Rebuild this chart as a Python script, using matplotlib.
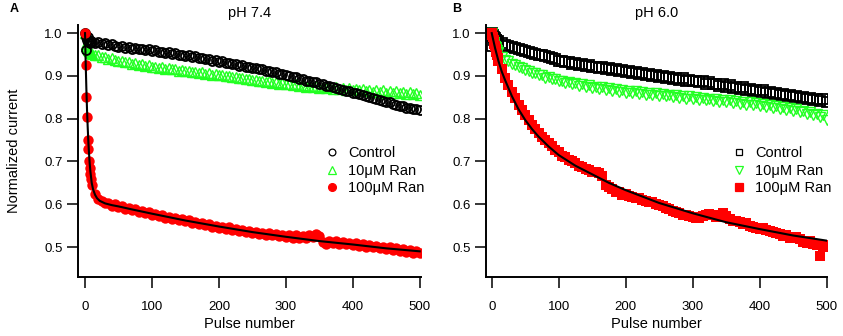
import matplotlib
matplotlib.use("Agg")
import matplotlib.pyplot as plt
import numpy as np

plt.rcParams['font.family'] = ['Liberation Sans', 'DejaVu Sans']

# ---------------- data ----------------
pulses = list(range(0, 11)) + list(range(15, 501, 5))

# Panel A, pH 7.4
ctrl_a = [1.0, 0.96, 0.99, 0.985, 0.99, 0.98, 0.985, 0.98, 0.978, 0.982, 0.98,
          0.977, 0.98, 0.975, 0.976, 0.972, 0.975, 0.97, 0.968, 0.971, 0.966, 0.967, 0.964, 0.966, 0.962, 0.963, 0.96, 0.962, 0.958,
          0.96, 0.956, 0.957, 0.953, 0.955, 0.951, 0.953, 0.949, 0.95, 0.947, 0.948, 0.944, 0.946, 0.942, 0.943, 0.939, 0.94, 0.936, 0.937, 0.933,
          0.934, 0.93, 0.931, 0.927, 0.928, 0.924, 0.925, 0.921, 0.922, 0.918, 0.919, 0.915, 0.915, 0.911, 0.912, 0.908, 0.908, 0.904, 0.905, 0.901,
          0.9, 0.897, 0.897, 0.893, 0.893, 0.889, 0.889, 0.885, 0.885, 0.881, 0.88, 0.877, 0.876, 0.873, 0.872, 0.869, 0.868, 0.865, 0.864, 0.861,
          0.86, 0.857, 0.856, 0.852, 0.851, 0.848, 0.847, 0.843, 0.842, 0.839, 0.838, 0.834, 0.833, 0.83, 0.829, 0.826, 0.826, 0.823, 0.823, 0.821]
ran10_a = [1.0, 0.975, 0.97, 0.965, 0.962, 0.96, 0.958, 0.955, 0.957, 0.953, 0.952,
           0.95, 0.948, 0.945, 0.944, 0.94, 0.941, 0.937, 0.936, 0.934, 0.932, 0.933, 0.929, 0.93, 0.926, 0.927, 0.924, 0.925, 0.921,
           0.922, 0.919, 0.92, 0.917, 0.918, 0.915, 0.916, 0.912, 0.913, 0.911, 0.912, 0.909, 0.91, 0.907, 0.908, 0.905, 0.906, 0.903, 0.904, 0.901,
           0.902, 0.899, 0.9, 0.897, 0.898, 0.894, 0.895, 0.892, 0.893, 0.89, 0.891, 0.888, 0.889, 0.886, 0.887, 0.884, 0.886, 0.882, 0.884, 0.88,
           0.882, 0.878, 0.88, 0.876, 0.879, 0.875, 0.877, 0.873, 0.876, 0.872, 0.875, 0.871, 0.874, 0.87, 0.873, 0.869, 0.872, 0.868, 0.871, 0.867,
           0.87, 0.866, 0.869, 0.864, 0.868, 0.863, 0.867, 0.862, 0.866, 0.861, 0.865, 0.86, 0.864, 0.859, 0.863, 0.858, 0.862, 0.857, 0.861, 0.856]
ran100_a = [1.0, 0.925, 0.85, 0.805, 0.75, 0.73, 0.70, 0.685, 0.67, 0.66, 0.645,
            0.625, 0.612, 0.608, 0.602, 0.603, 0.597, 0.6, 0.594, 0.596, 0.59, 0.592, 0.587, 0.588, 0.582, 0.584, 0.579, 0.581, 0.576,
            0.578, 0.572, 0.575, 0.569, 0.571, 0.566, 0.569, 0.563, 0.566, 0.56, 0.563, 0.557, 0.559, 0.554, 0.557, 0.551, 0.553, 0.547, 0.55, 0.545,
            0.548, 0.542, 0.546, 0.54, 0.543, 0.537, 0.541, 0.535, 0.538, 0.532, 0.536, 0.53, 0.534, 0.528, 0.533, 0.527, 0.531, 0.525, 0.529, 0.524,
            0.528, 0.522, 0.527, 0.521, 0.526, 0.52, 0.528, 0.524, 0.53, 0.526, 0.512, 0.508, 0.514, 0.509, 0.513, 0.508, 0.512, 0.506, 0.51, 0.505,
            0.509, 0.503, 0.507, 0.501, 0.505, 0.499, 0.503, 0.497, 0.501, 0.495, 0.499, 0.493, 0.497, 0.491, 0.495, 0.489, 0.493, 0.487, 0.49, 0.485]
fit_a_x = [0, 1, 2, 3, 4, 5, 6, 7, 8, 10, 12, 15, 18, 22, 26, 30, 40, 50, 70, 100, 150, 200, 250, 300, 350, 400, 450, 500]
fit_a_y = [1.0, 0.93, 0.87, 0.82, 0.78, 0.745, 0.718, 0.695, 0.677, 0.65, 0.635, 0.622, 0.614, 0.608, 0.605, 0.602,
           0.598, 0.595, 0.588, 0.578, 0.562, 0.548, 0.535, 0.524, 0.514, 0.506, 0.497, 0.49]

# Panel B, pH 6.0
ctrl_b = [1.0, 0.97, 0.995, 0.99, 0.985, 0.988, 0.983, 0.985, 0.98, 0.982, 0.978,
          0.976, 0.973, 0.97, 0.968, 0.965, 0.962, 0.961, 0.958, 0.956, 0.954, 0.952, 0.95, 0.948, 0.946, 0.944, 0.941, 0.94, 0.936,
          0.936, 0.932, 0.933, 0.929, 0.93, 0.926, 0.927, 0.923, 0.925, 0.921, 0.922, 0.918, 0.92, 0.916, 0.918, 0.913, 0.915, 0.911, 0.913, 0.909,
          0.911, 0.907, 0.909, 0.905, 0.907, 0.902, 0.905, 0.9, 0.903, 0.898, 0.9, 0.896, 0.898, 0.893, 0.896, 0.891, 0.894, 0.889, 0.891, 0.887,
          0.889, 0.885, 0.887, 0.882, 0.885, 0.88, 0.882, 0.877, 0.88, 0.875, 0.878, 0.872, 0.875, 0.87, 0.873, 0.868, 0.87, 0.865, 0.868, 0.863,
          0.866, 0.861, 0.863, 0.858, 0.861, 0.856, 0.858, 0.853, 0.856, 0.851, 0.854, 0.849, 0.851, 0.846, 0.849, 0.844, 0.847, 0.842, 0.845, 0.84]
ran10_b = [1.0, 0.99, 0.985, 0.98, 0.975, 0.97, 0.968, 0.963, 0.96, 0.957, 0.955,
           0.945, 0.938, 0.935, 0.928, 0.926, 0.92, 0.919, 0.913, 0.912, 0.907, 0.906, 0.901, 0.902, 0.896, 0.897, 0.892, 0.893, 0.888,
           0.889, 0.884, 0.886, 0.88, 0.883, 0.877, 0.88, 0.874, 0.878, 0.872, 0.875, 0.869, 0.873, 0.867, 0.871, 0.865, 0.869, 0.863, 0.867, 0.861,
           0.865, 0.859, 0.864, 0.858, 0.862, 0.856, 0.861, 0.855, 0.859, 0.853, 0.858, 0.852, 0.856, 0.85, 0.855, 0.849, 0.853, 0.847, 0.852, 0.846,
           0.85, 0.844, 0.849, 0.843, 0.847, 0.841, 0.846, 0.84, 0.844, 0.838, 0.843, 0.836, 0.841, 0.835, 0.839, 0.833, 0.838, 0.831, 0.836, 0.83,
           0.834, 0.828, 0.832, 0.826, 0.83, 0.823, 0.828, 0.821, 0.825, 0.818, 0.822, 0.815, 0.819, 0.812, 0.816, 0.808, 0.812, 0.804, 0.808, 0.798]
ran100_b = [1.0, 0.995, 0.99, 0.985, 0.975, 0.97, 0.962, 0.955, 0.948, 0.942, 0.935,
            0.915, 0.895, 0.878, 0.862, 0.848, 0.833, 0.82, 0.808, 0.797, 0.786, 0.776, 0.767, 0.758, 0.751, 0.743, 0.737, 0.728, 0.722,
            0.713, 0.71, 0.703, 0.7, 0.697, 0.69, 0.688, 0.682, 0.68, 0.676, 0.676, 0.672, 0.666, 0.645, 0.64, 0.635, 0.628, 0.628, 0.622, 0.625,
            0.62, 0.618, 0.614, 0.615, 0.61, 0.608, 0.605, 0.606, 0.6, 0.598, 0.596, 0.592, 0.588, 0.585, 0.582, 0.58, 0.576, 0.575, 0.572, 0.57,
            0.568, 0.567, 0.572, 0.575, 0.578, 0.574, 0.57, 0.575, 0.58, 0.572, 0.565, 0.56, 0.562, 0.558, 0.553, 0.556, 0.55, 0.548, 0.545, 0.543,
            0.545, 0.54, 0.537, 0.535, 0.533, 0.53, 0.526, 0.528, 0.522, 0.52, 0.523, 0.518, 0.512, 0.51, 0.514, 0.508, 0.505, 0.48, 0.5, 0.505]
fit_b_x = [0, 5, 10, 15, 20, 30, 40, 50, 60, 70, 85, 100, 125, 150, 175, 200, 250, 300, 350, 400, 450, 500]
fit_b_y = [1.0, 0.965, 0.935, 0.91, 0.89, 0.853, 0.822, 0.797, 0.776, 0.758, 0.735, 0.715, 0.69, 0.67, 0.65, 0.633,
           0.603, 0.579, 0.558, 0.542, 0.527, 0.515]

titles = ["pH 7.4", "pH 6.0"]
panel_labels = ["A", "B"]
legend_labels = ["Control", "10\u03bcM Ran", "100\u03bcM Ran"]
xticks = [0, 100, 200, 300, 400, 500]
yticks = [0.5, 0.6, 0.7, 0.8, 0.9, 1.0]

GREEN = "#22ff22"
RED = "#ff0000"

W, H = 843, 336
fig = plt.figure(figsize=(W / 100, H / 100), dpi=100)

axA = fig.add_axes([78 / W, 1 - 277 / H, (421 - 78) / W, (277 - 25) / H])
axB = fig.add_axes([485.7 / W, 1 - 277 / H, (827.3 - 485.7) / W, (277 - 25) / H])

# Panel A
axA.plot(pulses, ran10_a, ls='none', marker='^', ms=7, mfc='none', mec=GREEN, mew=1.0, label=legend_labels[1])
axA.plot(pulses, ctrl_a, ls='none', marker='o', ms=6.5, mfc='none', mec='black', mew=1.3, label=legend_labels[0])
axA.plot(pulses, ran100_a, ls='none', marker='o', ms=7.5, mfc=RED, mec=RED, mew=0, label=legend_labels[2])
axA.plot(fit_a_x, fit_a_y, color='black', lw=1.5)

# Panel B
axB.plot(pulses, ctrl_b, ls='none', marker='s', ms=6.5, mfc='none', mec='black', mew=1.3, label=legend_labels[0])
axB.plot(pulses, ran10_b, ls='none', marker='v', ms=7, mfc='none', mec=GREEN, mew=1.0, label=legend_labels[1])
axB.plot(pulses, ran100_b, ls='none', marker='s', ms=7.5, mfc=RED, mec=RED, mew=0, label=legend_labels[2])
axB.plot(fit_b_x, fit_b_y, color='black', lw=1.5)

handle_order = {axA: [1, 0, 2], axB: [0, 1, 2]}

for ax, xl, title in [(axA, (-10.5, 502), titles[0]), (axB, (-9, 501), titles[1])]:
    ax.set_xlim(*xl)
    ax.set_ylim(0.43, 1.019)
    ax.set_xticks(xticks)
    ax.set_yticks(yticks)
    ax.set_yticklabels([f"{v:.1f}" for v in yticks])
    for s in ['top', 'right']:
        ax.spines[s].set_visible(False)
    for s in ['left', 'bottom']:
        ax.spines[s].set_linewidth(1.4)
    ax.tick_params(direction='out', length=8, width=1.1, labelsize=9.5, pad=3)
    ax.tick_params(axis='x', pad=9)
    ax.set_xlabel("Pulse number", fontsize=10.5, labelpad=3)
    ax.set_title(title, fontsize=10.5, pad=6)
    handles, labels = ax.get_legend_handles_labels()
    order = handle_order[ax]
    leg = ax.legend([handles[i] for i in order], [labels[i] for i in order],
                    loc='upper left', bbox_to_anchor=(0.69, 0.56), frameon=False, fontsize=10.5,
                    handlelength=1.0, handletextpad=0.6, labelspacing=0.25, borderpad=0.2, markerscale=0.75)
    for lh in leg.legend_handles:
        lh.set_markeredgewidth(0.9)

axA.set_ylabel("Normalized current", fontsize=10.5, labelpad=17)
fig.text(10 / W, 1 - 9 / H, panel_labels[0], fontsize=9, fontweight='bold', ha='left', va='center')
fig.text(452 / W, 1 - 9 / H, panel_labels[1], fontsize=9, fontweight='bold', ha='left', va='center')

fig.savefig("out.png", dpi=100)
